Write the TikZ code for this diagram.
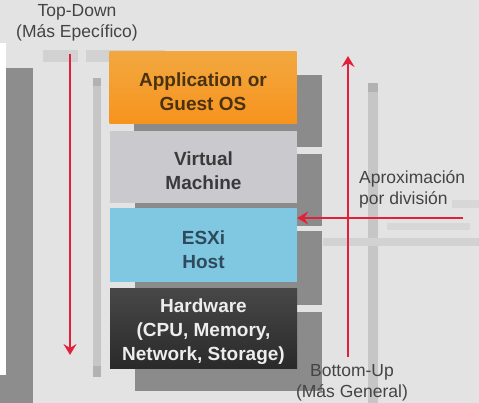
\documentclass[tikz,border=0pt]{standalone}
\usepackage{fontspec}
\setmainfont{Liberation Sans}
\usetikzlibrary{arrows.meta}
\definecolor{bg}{HTML}{E3E3E3}
\definecolor{shadowgray}{HTML}{8B8B8B}
\definecolor{leftgray}{HTML}{8D8D8D}
\definecolor{barlight}{HTML}{C6C6C6}
\definecolor{barcap}{HTML}{B2B2B2}
\definecolor{faint}{HTML}{D2D2D2}
\definecolor{redarrow}{HTML}{E3203A}
\definecolor{apptop}{HTML}{F2A83F}
\definecolor{appbot}{HTML}{F7931E}
\definecolor{apptext}{HTML}{4A3210}
\definecolor{vmfill}{HTML}{C9C9CE}
\definecolor{vmtext}{HTML}{3A3A3A}
\definecolor{esxifill}{HTML}{80C8E2}
\definecolor{esxitext}{HTML}{2E4A5C}
\definecolor{hwtop}{HTML}{474747}
\definecolor{hwbot}{HTML}{2A2A2A}
\definecolor{hwtext}{HTML}{EDEDED}
\definecolor{labelgray}{HTML}{444444}
\newcommand\boxlines[2]{\raisebox{-#1}[\height][\depth]{\begin{tabular}{@{}c@{}}#2\end{tabular}}}
\tikzset{
  layerbox/.style={rectangle, minimum width=187pt, inner sep=0pt,
    font=\fontsize{19}{24}\selectfont\bfseries},
  lbl/.style={inner sep=0pt, align=center, text=labelgray,
    font=\fontsize{17.5}{20.5}\selectfont},
  redline/.style={draw=redarrow, line width=2.3pt,
    -{Stealth[length=11pt,width=13pt,inset=4pt]}}
}
\begin{document}
\begin{tikzpicture}[x=1pt,y=-1pt]
\useasboundingbox (0,0) rectangle (479,403);
% background
\fill[bg] (0,0) rectangle (479,403);
% left artefacts
\fill[leftgray] (0,68) rectangle (33,403);
\fill[white] (0,43) rectangle (6,375);
\fill[faint] (43,50) rectangle (78,62);
\fill[faint] (86,50) rectangle (165,62);
\fill[barlight] (93,78) rectangle (101,377);
\fill[barcap] (93,78) rectangle (101,86);
\fill[barcap] (93,366) rectangle (101,377);
% right artefacts
\fill[barlight] (368,83) rectangle (378,403);
\fill[barcap] (368,83) rectangle (378,92);
\fill[faint] (323,238) rectangle (479,246);
\fill[faint!70!bg] (452,200) rectangle (479,208);
\fill[faint!70!bg] (387,223) rectangle (470,230);
% shadows of the stack
\fill[shadowgray] (134,75) rectangle (322,147);
\fill[shadowgray] (135,154) rectangle (322,226);
\fill[shadowgray] (135,231) rectangle (322,305);
\fill[shadowgray] (135,312) rectangle (322,391);
% layer boxes
\node[layerbox, minimum height=72pt, top color=apptop, bottom color=appbot, text=apptext]
  (app) at (203,88) {\boxlines{6pt}{Application or\\Guest OS}};
\node[layerbox, minimum height=72pt, fill=vmfill, text=vmtext]
  (vm) at (203.5,167) {\boxlines{5.5pt}{Virtual\\Machine}};
\node[layerbox, minimum height=74pt, fill=esxifill, text=esxitext]
  (esxi) at (203.5,245) {\boxlines{6.5pt}{ESXi\\Host}};
\node[layerbox, minimum height=79pt, top color=hwtop, bottom color=hwbot, text=hwtext]
  (hw) at (203.5,328.5) {\boxlines{3.5pt}{Hardware\\(CPU, Memory,\\Network, Storage)}};
% labels
\node[lbl] (td) at (77,23) {Top-Down\\(Más Epecífico)};
\node[lbl] (bu) at (352,383) {Bottom-Up\\(Más General)};
\node[lbl, align=left, anchor=west] (aprox) at (359,189.5) {Aproximación\\por división};
% arrows
\coordinate (tdS) at (70,54);
\coordinate (tdE) at (70,355);
\coordinate (buS) at (348,357);
\coordinate (buE) at (348,56);
\coordinate (hS) at (463,218);
\draw[redline] (tdS) -- (tdE);
\draw[redline] (buS) -- (buE);
\draw[redline] (hS) -- (hS -| esxi.east);
\end{tikzpicture}
\end{document}
